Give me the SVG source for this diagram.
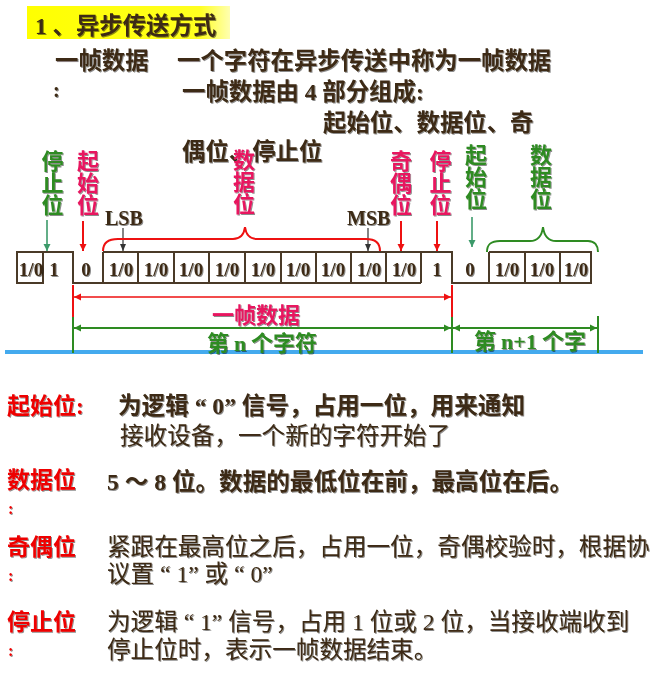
<svg xmlns="http://www.w3.org/2000/svg" width="671" height="682" viewBox="0 0 671 682">
<defs>
<filter id="sh" x="-5%" y="-10%" width="115%" height="130%">
<feDropShadow dx="1" dy="1" stdDeviation="0.5" flood-color="#000" flood-opacity="0.45"/>
</filter>
<linearGradient id="yg" x1="0" y1="0" x2="1" y2="0">
<stop offset="0" stop-color="#ffff00"/>
<stop offset="0.85" stop-color="#ffff20"/>
<stop offset="1" stop-color="#ffffb0"/>
</linearGradient>
<marker id="ar" markerUnits="userSpaceOnUse" markerWidth="8" markerHeight="8" refX="7" refY="4" orient="auto-start-reverse"><path d="M0,0.5 L7,4 L0,7.5 z" fill="#ee1111"/></marker>
<marker id="ag" markerUnits="userSpaceOnUse" markerWidth="8" markerHeight="8" refX="7" refY="4" orient="auto-start-reverse"><path d="M0,0.5 L7,4 L0,7.5 z" fill="#2e8b22"/></marker>
<marker id="as" markerUnits="userSpaceOnUse" markerWidth="8" markerHeight="8" refX="7" refY="4" orient="auto-start-reverse"><path d="M0,0.5 L7,4 L0,7.5 z" fill="#3c9a6a"/></marker>
<marker id="ak" markerUnits="userSpaceOnUse" markerWidth="8" markerHeight="8" refX="7" refY="4" orient="auto-start-reverse"><path d="M0,1 L7,4 L0,7 z" fill="#333"/></marker>
</defs>
<style>
.t{font-family:"Liberation Serif","Noto Sans CJK SC",serif;font-weight:bold;fill:#3c2a14;filter:url(#sh)}
.h{font-size:23.4px}
.b{font-size:23.6px;font-weight:normal}
.bb{font-size:23.6px}
.v{font-family:"Noto Sans CJK SC",sans-serif;font-size:22px;font-weight:bold;text-anchor:middle;filter:url(#sh)}
.vt{font-family:"Noto Sans CJK SC",sans-serif;font-size:22px;font-weight:bold;writing-mode:vertical-rl;text-orientation:upright;filter:url(#sh)}
.cr{fill:#e8145f}
.gr{fill:#2e8b22}
.rd{fill:#ee0000}
.bit{font-family:"Liberation Serif",serif;font-weight:bold;font-size:19px;fill:#3c2a14;text-anchor:middle;filter:url(#sh)}
.sb{font-family:"Liberation Serif",serif;font-weight:bold;font-size:20px;fill:#3c2a14;filter:url(#sh)}
.wave{fill:none;stroke:#4a3a28;stroke-width:2}
.lr{stroke:#ee1111;stroke-width:2;fill:none}
.lg{stroke:#2e8b22;stroke-width:2;fill:none}
.ls{stroke:#3c9a6a;stroke-width:1.6;fill:none}
.lk{stroke:#333;stroke-width:1.2;fill:none}
</style>
<rect width="671" height="682" fill="#ffffff"/>

<g id="heading">
<rect x="27" y="6" width="203" height="33" fill="url(#yg)"/>
<text class="t h" x="35" y="34">1 、异步传送方式</text>
</g>

<g id="intro">
<text class="t h" x="55" y="69">一帧数据</text>
<text class="t h" x="177" y="69">一个字符在异步传送中称为一帧数据</text>
<text class="t" x="53" y="97" font-size="20">:</text>
<text class="t h" x="182" y="100">一帧数据由 4 部分组成:</text>
<text class="t h" x="323" y="131">起始位、数据位、奇</text>
<text class="t h" x="182" y="160">偶位、停止位</text>
</g>

<g id="baseline-blue">
<rect x="5" y="350" width="638" height="4" fill="#44aaee"/>
</g>

<g id="waveform">
<rect class="wave" x="17" y="252" width="26" height="31"/>
<path class="wave" d="M43,252 H73 V283 H103 V252"/>
<path class="wave" d="M103,252 H421 M103,283 H421 M138,252 V283 M174,252 V283 M209,252 V283 M245,252 V283 M281,252 V283 M316,252 V283 M351,252 V283 M386,252 V283 M421,252 V283"/>
<path class="wave" d="M421,252 H452 V283 H489 V252"/>
<path class="wave" d="M489,252 H591 V283 H489 M525,252 V283 M560,252 V283"/>
</g>

<g id="bits">
<text class="bit" x="31" y="276">1/0</text>
<text class="bit" x="54" y="276">1</text>
<text class="bit" x="86" y="276">0</text>
<text class="bit" x="121" y="276">1/0</text>
<text class="bit" x="156" y="276">1/0</text>
<text class="bit" x="191" y="276">1/0</text>
<text class="bit" x="227" y="276">1/0</text>
<text class="bit" x="263" y="276">1/0</text>
<text class="bit" x="298" y="276">1/0</text>
<text class="bit" x="333" y="276">1/0</text>
<text class="bit" x="369" y="276">1/0</text>
<text class="bit" x="404" y="276">1/0</text>
<text class="bit" x="437" y="276">1</text>
<text class="bit" x="470" y="276">0</text>
<text class="bit" x="507" y="276">1/0</text>
<text class="bit" x="542" y="276">1/0</text>
<text class="bit" x="576" y="276">1/0</text>
</g>

<g id="label-stop-left">
<text class="vt gr" x="52.5" y="150">停止位</text>
</g>
<g id="label-start">
<text class="vt cr" x="88" y="150">起始位</text>
</g>
<g id="label-lsb">
<text class="sb" x="105" y="225">LSB</text>
</g>
<g id="label-data">
<text class="vt cr" x="244" y="149">数据位</text>
</g>
<g id="label-msb">
<text class="sb" x="347" y="225">MSB</text>
</g>
<g id="label-parity">
<text class="vt cr" x="401" y="150">奇偶位</text>
</g>
<g id="label-stop">
<text class="vt cr" x="440.5" y="150">停止位</text>
</g>
<g id="label-start-next">
<text class="vt gr" x="476" y="144">起始位</text>
</g>
<g id="label-data-next">
<text class="vt gr" x="541" y="144">数据位</text>
</g>

<g id="connectors">
<line class="ls" x1="47" y1="220" x2="47" y2="251" marker-end="url(#as)"/>
<line class="lr" x1="83" y1="221" x2="83" y2="251" marker-end="url(#ar)"/>
<line class="lk" x1="123" y1="228" x2="123" y2="251" marker-end="url(#ak)"/>
<line class="lk" x1="368" y1="228" x2="368" y2="251" marker-end="url(#ak)"/>
<line class="lr" x1="401" y1="221" x2="401" y2="251" marker-end="url(#ar)"/>
<line class="lr" x1="437" y1="221" x2="437" y2="251" marker-end="url(#ar)"/>
<line class="ls" x1="472" y1="217" x2="472" y2="247" marker-end="url(#as)"/>
<path class="lr" d="M103,251 C103,243 108,239 118,239 L233,239 C240,239 244,235 245,227 C246,235 250,239 257,239 L366,239 C376,239 380,244 380,251"/>
<path class="lg" d="M487,252 C487,245 490,241 500,241 L530,241 C538,241 542,235 543,227 C544,235 548,241 556,241 L588,241 C595,241 598,246 598,252"/>
<line class="lr" x1="73" y1="285" x2="73" y2="317"/>
<line class="lg" x1="73" y1="317" x2="73" y2="353"/>
<line class="lr" x1="452" y1="285" x2="452" y2="317"/>
<line class="lg" x1="452" y1="317" x2="452" y2="353"/>
<line class="lg" x1="598" y1="316" x2="598" y2="353"/>
<line stroke="#ee1111" stroke-width="1.5" x1="74" y1="297" x2="451" y2="297" marker-start="url(#ar)" marker-end="url(#ar)"/>
<line stroke="#2e8b22" stroke-width="2" x1="74" y1="328" x2="451" y2="328" marker-start="url(#ag)" marker-end="url(#ag)"/>
<line stroke="#2e8b22" stroke-width="2" x1="453" y1="328" x2="597" y2="328" marker-start="url(#ag)" marker-end="url(#ag)"/>
</g>

<g id="dim-labels">
<text class="v cr" x="256" y="322.5" font-size="19">一帧数据</text>
<text class="v gr" x="262" y="351" font-size="17.5"><tspan>第 </tspan><tspan font-family="Liberation Serif">n</tspan><tspan> 个字符</tspan></text>
<text class="v gr" x="530" y="349" font-size="18"><tspan>第 </tspan><tspan font-family="Liberation Serif">n+1</tspan><tspan> 个字</tspan></text>
</g>

<g id="desc-start">
<text class="t rd" x="7" y="414" font-size="23" font-family="Noto Sans CJK SC">起始位:</text>
<text class="t bb" x="118" y="414">为逻辑 “ 0” 信号，占用一位，用来通知</text>
<text class="t b" x="120" y="444">接收设备，一个新的字符开始了</text>
</g>

<g id="desc-data">
<text class="t rd" x="7" y="488" font-size="23" font-family="Noto Sans CJK SC">数据位</text>
<text class="t rd" x="8" y="514" font-size="16">:</text>
<text class="t bb" x="107" y="490">5 ～ 8 位。数据的最低位在前，最高位在后。</text>
</g>

<g id="desc-parity">
<text class="t rd" x="7" y="555" font-size="23" font-family="Noto Sans CJK SC">奇偶位</text>
<text class="t rd" x="8" y="581" font-size="16">:</text>
<text class="t b" x="107" y="555">紧跟在最高位之后，占用一位，奇偶校验时，根据协</text>
<text class="t b" x="107" y="582">议置 “ 1” 或 “ 0”</text>
</g>

<g id="desc-stop">
<text class="t rd" x="7" y="630" font-size="23" font-family="Noto Sans CJK SC">停止位</text>
<text class="t rd" x="8" y="656" font-size="16">:</text>
<text class="t b" x="107" y="630">为逻辑 “ 1” 信号，占用 1 位或 2 位，当接收端收到</text>
<text class="t b" x="107" y="658">停止位时，表示一帧数据结束。</text>
</g>
</svg>
